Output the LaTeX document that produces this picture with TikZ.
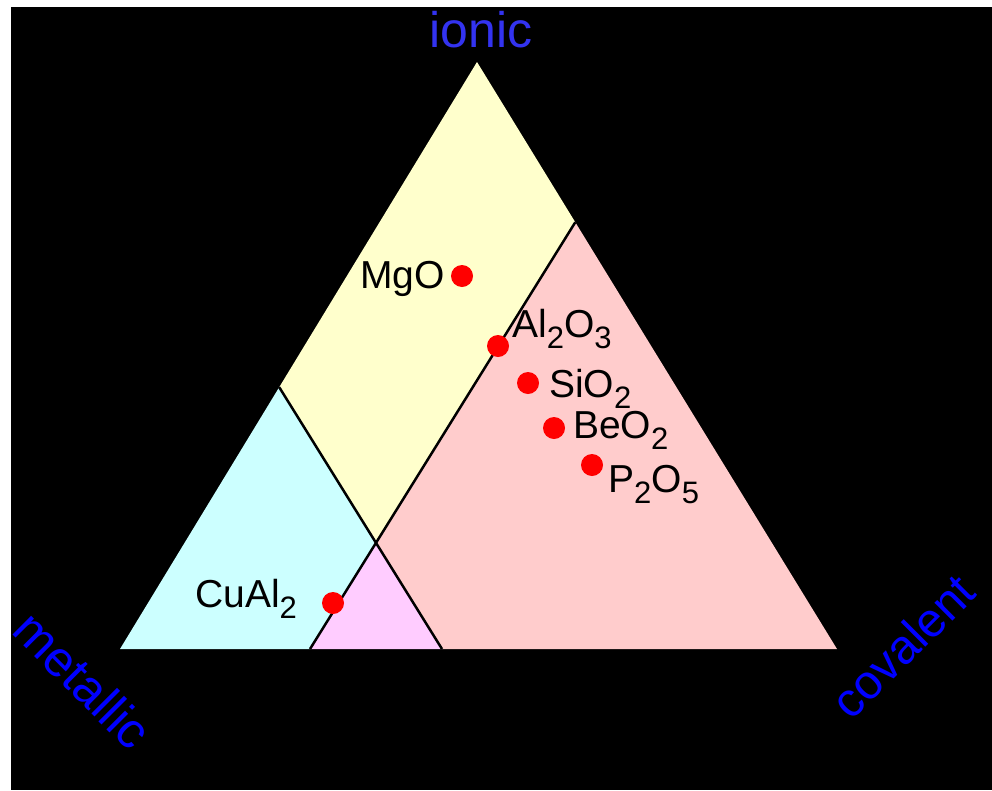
\documentclass[tikz,border=0pt]{standalone}
\usepackage{fontspec}
\setmainfont{Liberation Sans}
\usetikzlibrary{calc}
\definecolor{ionyellow}{HTML}{FFFFCC}
\definecolor{metcyan}{HTML}{CCFFFF}
\definecolor{covpink}{HTML}{FFCCCC}
\definecolor{midmag}{HTML}{FFCCFF}
\definecolor{axblue}{HTML}{0000FF}
\definecolor{topblue}{HTML}{3333F0}
\newcommand\subs[1]{\raisebox{-11pt}{\fontsize{31}{31}\selectfont #1}}
\tikzset{
  divline/.style={line width=2.5pt, black},
  compdot/.style={circle, fill=red, minimum size=22pt, inner sep=0pt},
  complabel/.style={inner sep=0pt, font=\fontsize{39}{39}\selectfont, text=black},
  axislabel/.style={inner sep=0pt, font=\fontsize{48}{48}\selectfont, text=axblue},
}
\begin{document}
\begin{tikzpicture}[x=1pt,y=-1pt]
\useasboundingbox (0,0) rectangle (992,790);
\fill[white] (0,0) rectangle (992,790);
\fill[black] (11,7) rectangle (992,790);
% corners of the triangle
\coordinate (T) at (477,62);
\coordinate (L) at (120,649);
\coordinate (R) at (837,649);
\coordinate (A) at ($(L)!0.446!(T)$);
\coordinate (B) at ($(R)!0.727!(T)$);
\coordinate (P1) at (310,649);
\coordinate (P2) at (442,649);
\coordinate (X) at (intersection of A--P2 and B--P1);
% regions
\fill[ionyellow] (T) -- (A) -- (X) -- (B) -- cycle;
\fill[metcyan] (L) -- (A) -- (X) -- (P1) -- cycle;
\fill[covpink] (B) -- (R) -- (P2) -- (X) -- cycle;
\fill[midmag] (X) -- (P1) -- (P2) -- cycle;
% dividing lines
\draw[divline] (A) -- (P2);
\draw[divline] (B) -- (P1);
% compounds
\node[compdot] (dMgO) at (462,276) {};
\node[compdot] (dAl) at (498,346) {};
\node[compdot] (dSi) at (528,383) {};
\node[compdot] (dBe) at (554,428) {};
\node[compdot] (dP) at (592,465) {};
\node[compdot] (dCu) at (333,603) {};
\node[complabel, anchor=base east] (lMgO) at (445,288) {MgO};
\node[complabel, anchor=base west] (lAl) at (512,337) {Al\subs{2}O\subs{3}};
\node[complabel, anchor=base west] (lSi) at (549,397) {SiO\subs{2}};
\node[complabel, anchor=base west] (lBe) at (573,438) {BeO\subs{2}};
\node[complabel, anchor=base west] (lP) at (608,492) {P\subs{2}O\subs{5}};
\node[complabel, anchor=base west] (lCu) at (195,607) {CuAl\subs{2}};
% axis labels
\node[axislabel, text=topblue, font=\fontsize{50}{50}\selectfont, anchor=base] (ionic) at (481,47) {ionic};
\node[axislabel, font=\fontsize{50}{50}\selectfont, rotate=-45] (metallic) at (83,680) {metallic};
\node[axislabel, rotate=45] (covalent) at (903,646) {covalent};
\end{tikzpicture}
\end{document}
